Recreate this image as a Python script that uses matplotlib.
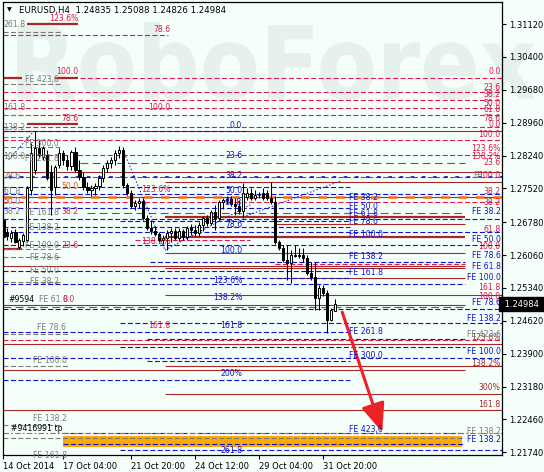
import matplotlib
matplotlib.use('Agg')
import matplotlib.pyplot as plt
from matplotlib.textpath import TextPath
from matplotlib.patches import PathPatch, Rectangle
from matplotlib.font_manager import FontProperties
from matplotlib.transforms import Affine2D
import numpy as np

# EURUSD H4 candles, one per bar starting 14 Oct 2014
opens = [1.2683, 1.2657, 1.2643, 1.2657, 1.2624, 1.2637, 1.2639, 1.2749, 1.2792, 1.2841,
         1.2821, 1.2825, 1.2788, 1.2755, 1.2803, 1.2830, 1.2814, 1.2801, 1.2832, 1.2792,
         1.2777, 1.2755, 1.2749, 1.2753, 1.2757, 1.2775, 1.2797, 1.2808, 1.2814, 1.2830,
         1.2836, 1.2759, 1.2742, 1.2714, 1.2720, 1.2724, 1.2687, 1.2665, 1.2659, 1.2652,
         1.2639, 1.2643, 1.2654, 1.2659, 1.2643, 1.2659, 1.2646, 1.2665, 1.2661, 1.2654,
         1.2672, 1.2687, 1.2676, 1.2700, 1.2687, 1.2722, 1.2727, 1.2729, 1.2718, 1.2714,
         1.2703, 1.2733, 1.2742, 1.2731, 1.2738, 1.2742, 1.2742, 1.2731, 1.2722, 1.2635,
         1.2622, 1.2595, 1.2589, 1.2606, 1.2604, 1.2606, 1.2600, 1.2567, 1.2558, 1.2512,
         1.2534, 1.2523, 1.2464, 1.24835]
highs = [1.2687, 1.2665, 1.2661, 1.2663, 1.2643, 1.2654, 1.2757, 1.2851, 1.2878, 1.2858,
         1.2845, 1.2836, 1.2803, 1.2803, 1.2841, 1.2836, 1.2825, 1.2836, 1.2843, 1.2814,
         1.2788, 1.2766, 1.2760, 1.2764, 1.2781, 1.2803, 1.2814, 1.2821, 1.2836, 1.2845,
         1.2843, 1.2764, 1.2749, 1.2727, 1.2731, 1.2731, 1.2694, 1.2683, 1.2670, 1.2657,
         1.2650, 1.2661, 1.2665, 1.2665, 1.2665, 1.2663, 1.2670, 1.2674, 1.2672, 1.2678,
         1.2692, 1.2694, 1.2705, 1.2716, 1.2727, 1.2731, 1.2735, 1.2735, 1.2731, 1.2727,
         1.2764, 1.2753, 1.2753, 1.2749, 1.2744, 1.2753, 1.2749, 1.2766, 1.2735, 1.2639,
         1.2628, 1.2628, 1.2617, 1.2628, 1.2622, 1.2622, 1.2606, 1.2591, 1.2591, 1.2540,
         1.2540, 1.2529, 1.2490, 1.25088]
lows = [1.2639, 1.2639, 1.2635, 1.2632, 1.2619, 1.2626, 1.2635, 1.2738, 1.2784, 1.2819,
        1.2814, 1.2770, 1.2694, 1.2738, 1.2797, 1.2803, 1.2792, 1.2792, 1.2788, 1.2770,
        1.2749, 1.2742, 1.2735, 1.2738, 1.2749, 1.2766, 1.2788, 1.2797, 1.2803, 1.2819,
        1.2753, 1.2738, 1.2709, 1.2705, 1.2709, 1.2683, 1.2661, 1.2652, 1.2648, 1.2635,
        1.2630, 1.2617, 1.2635, 1.2639, 1.2637, 1.2639, 1.2639, 1.2650, 1.2648, 1.2648,
        1.2659, 1.2670, 1.2672, 1.2661, 1.2683, 1.2707, 1.2718, 1.2714, 1.2694, 1.2696,
        1.2687, 1.2727, 1.2727, 1.2727, 1.2731, 1.2727, 1.2727, 1.2718, 1.2630, 1.2617,
        1.2591, 1.2551, 1.2545, 1.2602, 1.2600, 1.2591, 1.2562, 1.2551, 1.2486, 1.2486,
        1.2516, 1.2435, 1.2462, 1.24826]
closes = [1.2646, 1.2648, 1.2654, 1.2635, 1.2639, 1.2650, 1.2753, 1.2830, 1.2841, 1.2825,
          1.2841, 1.2775, 1.2749, 1.2799, 1.2830, 1.2814, 1.2801, 1.2832, 1.2792, 1.2777,
          1.2755, 1.2749, 1.2753, 1.2757, 1.2775, 1.2797, 1.2808, 1.2814, 1.2830, 1.2836,
          1.2759, 1.2742, 1.2714, 1.2720, 1.2724, 1.2687, 1.2665, 1.2659, 1.2652, 1.2639,
          1.2643, 1.2654, 1.2659, 1.2643, 1.2659, 1.2646, 1.2665, 1.2661, 1.2654, 1.2672,
          1.2687, 1.2676, 1.2700, 1.2687, 1.2722, 1.2727, 1.2729, 1.2718, 1.2714, 1.2703,
          1.2742, 1.2742, 1.2731, 1.2738, 1.2737, 1.2731, 1.2731, 1.2722, 1.2635, 1.2622,
          1.2595, 1.2589, 1.2606, 1.2604, 1.2606, 1.2600, 1.2567, 1.2558, 1.2512, 1.2534,
          1.2523, 1.2464, 1.2486, 1.24984]

time_ticks = [0, 15, 32, 48, 64, 80]
time_labels = ['14 Oct 2014', '17 Oct 04:00', '21 Oct 20:00', '24 Oct 12:00', '29 Oct 04:00', '31 Oct 20:00']
price_ticks = [1.31120, 1.30400, 1.29680, 1.28960, 1.28240, 1.27520, 1.26780,
               1.26060, 1.25340, 1.24620, 1.23900, 1.23180, 1.22460, 1.21740]
last_price = 1.24984

L, R = -0.1, 124.65   # chart edges in bars

# levels: (price, first bar, last bar)
red_levels = [(1.3088, L, 41.2), (1.2993, 19.2, R), (1.2962, L, R), (1.2946, L, R),
              (1.2929, L, R), (1.2912, L, R), (1.2886, L, R), (1.2858, L, R),
              (1.2826, L, R), (1.2776, L, R), (1.2722, L, R), (1.2639, 33.0, 61.7),
              (1.2586, 68.0, 115.4), (1.2420, L, R)]
blue_levels = [(1.2877, L, 61.7), (1.2756, L, 86.7), (1.2740, L, R), (1.2709, L, 86.7),
               (1.2685, L, R), (1.2681, 29.2, 86.7), (1.2667, L, 86.7), (1.2656, L, R),
               (1.2629, L, R), (1.2591, 36.7, 115.4), (1.2570, L, 86.7), (1.2555, 36.7, 86.7),
               (1.2543, L, 115.4), (1.2487, L, R), (1.2457, 29.2, R), (1.2437, L, 86.7),
               (1.2423, 36.0, 115.4), (1.2404, 29.2, 115.4), (1.2380, L, R), (1.2374, 36.0, 86.7),
               (1.2332, L, 86.7), (1.2216, 15.0, 115.4), (1.2192, 15.0, 115.4), (1.2179, 29.2, R)]
gray_levels = [(1.3094, L, 14.2), (1.2981, L, 14.2), (1.2912, L, 6.5), (1.2865, L, 6.5),
               (1.2843, L, 14.2), (1.2620, L, 14.2), (1.2601, L, 14.2), (1.2546, L, 14.2),
               (1.2433, L, 16.7), (1.2362, L, 16.7), (1.2234, L, 14.2), (1.2205, L, 115.4)]
brown_levels = [(1.2877, L, R), (1.2787, L, R), (1.2767, 40.4, R), (1.2733, L, R),
                (1.2674, 68.0, 115.4), (1.2610, 40.4, 115.4), (1.2582, L, 115.4),
                (1.2577, 40.4, 115.4), (1.2555, 68.0, 115.4), (1.2518, 40.4, R),
                (1.2497, L, 115.4), (1.2411, L, R), (1.2362, 40.4, R), (1.2354, L, 115.4),
                (1.2301, 40.4, R), (1.2267, L, R)]
brown_thick_levels = [(1.3112, 5.9, 18.7), (1.2993, L, 4.7), (1.2993, 12.9, 18.7),
                      (1.2893, 5.9, 18.7), (1.2690, 40.4, 115.4), (1.2646, 40.4, 115.4),
                      (1.2620, L, 4.7)]
green_levels = [(1.2808, 19.2, 115.4), (1.2699, 20.9, 115.4), (1.2493, L, 115.4)]
orange_level = (1.2733, L, R)
tp_level = (1.2216, L, R)
tp_band = (1.2186, 1.2210, 15.0, 114.7)

# trend lines (bar, price) pairs
trend_lines = [((29.9, 1.2836), (40.4, 1.2617)), ((40.4, 1.2617), (61.7, 1.2716)),
               ((59.9, 1.2689), (84.2, 1.2768)), ((7.2, 1.2873), (1.2, 1.2814))]
arrow_from = (84.7, 1.2481)
arrow_to = (94.7, 1.2218)

# labels: (text, bar, price)
gray_left = [('261.8', 0, 1.3110), ('FE 423,6', 5.5, 1.2991), ('161.8', 0, 1.2930),
             ('138.2', 0, 1.2886), ('FE 300,0', 5.5, 1.2851), ('100.0', 0, 1.2821),
             ('FE 261.8', 5.5, 1.2817), ('78.6', 0, 1.2777), ('61.8', 0, 1.2746),
             ('50.0', 0, 1.2724), ('38.2', 0, 1.2701), ('FE 161.8', 5.5, 1.2699),
             ('FE 138.2', 5.5, 1.2666), ('FE 100.0', 5.5, 1.2627), ('FE 78.6', 6.7, 1.2601),
             ('FE 50.0', 6.7, 1.2572), ('FE 38.2', 6.7, 1.2548), ('FE 61.8', 9.0, 1.2508),
             ('FE 78.6', 8.4, 1.2448), ('FE 100.0', 7.4, 1.2374), ('FE 138.2', 7.4, 1.2247),
             ('FE 161.8', 7.4, 1.2167)]
black_left = [('#9594', 1.3, 1.2508), ('#9416991 tp', 1.8, 1.2227)]
red_mid = [('123.6%', 18.7, 1.3125), ('78.6', 41.7, 1.3101), ('100.0', 18.7, 1.3007),
           ('100.0', 41.7, 1.2930), ('78.6', 18.7, 1.2904), ('123.6%', 41.7, 1.2749),
           ('38.2', 18.7, 1.2701), ('23.6', 18.7, 1.2628), ('138.2%', 41.7, 1.2635),
           ('161.8', 41.7, 1.2451), ('0.0', 17.9, 1.2508)]
orange_mid = [('50.0', 18.7, 1.2757)]
blue_mid = [('0.0', 1.2889), ('23.6', 1.2825), ('38.2', 1.2781), ('50.0', 1.2748),
            ('61.8', 1.2720), ('78.6', 1.2672), ('100.0', 1.2617), ('123.6%', 1.2551),
            ('138.2%', 1.2514), ('161.8', 1.2451), ('200%', 1.2346), ('261.8', 1.2179)]
blue_fe_mid = [('FE 38.2', 1.2733), ('FE 50.0', 1.2713), ('FE 61.8', 1.2698),
               ('FE 78.6', 1.2680), ('FE 100.0', 1.2652), ('FE 138.2', 1.2602),
               ('FE 161.8', 1.2567), ('FE 261.8', 1.2438), ('FE 300.0', 1.2387),
               ('FE 423,6', 1.2223)]
blue_right = [('FE 38.2', 1.2701), ('FE 50.0', 1.2639), ('FE 78.6', 1.2604),
              ('FE 61.8', 1.2582), ('FE 100.0', 1.2556), ('FE 78.6', 1.2501),
              ('FE 138.2', 1.2468), ('FE 100.0', 1.2394), ('FE 138.2', 1.2203)]
red_right = [('0.0', 1.3007), ('23.6', 1.2974), ('38.2', 1.2957), ('50.0', 1.2939),
             ('61.8', 1.2924), ('78.6', 1.2906), ('0.0', 1.2891), ('100.0', 1.2869),
             ('123.6%', 1.2840), ('138.2%', 1.2821), ('23.6', 1.2808), ('100.0', 1.2781),
             ('38.2', 1.2746), ('38.2', 1.2722), ('61.8', 1.2661), ('100.0', 1.2624),
             ('161.8', 1.2534), ('100.0', 1.2516)]
brown_right = [('123.6%', 1.2425), ('138.2%', 1.2368), ('300%', 1.2315), ('161.8', 1.2278)]
gray_right = [('FE', 119.9, 1.2781), ('FE 423.6', 124.3, 1.2432), ('FE 138.2', 124.3, 1.2219)]

BG = '#F5FFFA'
RED = '#E3174A'
BLUE = '#1010D0'
GRAY = '#7A7A7A'
BROWN = '#A8282A'
GREEN = '#1E8A1E'
FS = 5.6

fig = plt.figure(figsize=(5.44, 4.72), dpi=100, facecolor=BG)
ax = fig.add_axes([3 / 544, 17 / 472, 499 / 544, 453 / 472], facecolor=BG)
ax.set_xlim(L, R)
ax.set_ylim(1.21681, 1.31602)

# watermark
prop = FontProperties(family='DejaVu Sans', weight='bold')
tp = TextPath((0, 0), 'RoboForex', size=1, prop=prop)
ext = tp.get_extents()
sx = (535 - 17) / ext.width
sy = (100 - 22) / ext.height
wm = Affine2D().translate(-ext.x0, -ext.y0).scale(sx / 544, sy / 472).translate(17 / 544, (472 - 100) / 472)
ax.add_patch(PathPatch(tp, transform=wm + fig.transFigure, facecolor='#E6F0ED', edgecolor='none', zorder=0, clip_on=False))

def levels(rows, color, ls, lw, z=2):
    for y, x0, x1 in rows:
        ax.hlines(y, x0, x1, colors=color, linestyles=ls, linewidth=lw, zorder=z)

levels(brown_levels, BROWN, 'solid', 0.8)
levels(brown_thick_levels, BROWN, 'solid', 1.6)
levels(red_levels, RED, (0, (4.5, 2.2)), 0.8)
levels(blue_levels, BLUE, (0, (4.5, 2.2)), 0.8)
levels(gray_levels, GRAY, (0, (4.5, 2.2)), 0.8)
levels(green_levels, GREEN, (0, (7, 4)), 0.8)
ax.hlines(1.2776, L, R, colors=BLUE, linestyles=(3.3, (2.2, 4.5)), linewidth=1.2, zorder=2)
ax.hlines(orange_level[0], orange_level[1], orange_level[2], colors='#FF6A00',
          linestyles=(0, (3.5, 3.5)), linewidth=1.8, zorder=2)
ax.hlines(tp_level[0], tp_level[1], tp_level[2], colors='#FF4A1A',
          linestyles=(0, (5, 2, 1.5, 2)), linewidth=0.8, zorder=2)
ax.add_patch(Rectangle((tp_band[2], tp_band[0]), tp_band[3] - tp_band[2], tp_band[1] - tp_band[0],
                       facecolor='#FFA800', edgecolor='none', zorder=1.5))

for (x0, y0), (x1, y1) in trend_lines:
    ax.plot([x0, x1], [y0, y1], color=BLUE, linestyle=(0, (1.5, 2)), linewidth=0.7, zorder=2)

# candles
x = np.arange(len(opens))
o = np.array(opens)
c = np.array(closes)
ax.vlines(x, lows, highs, color='black', linewidth=0.75, zorder=4)
up = c >= o
body = np.maximum(np.abs(c - o), 0.00004)
ax.bar(x[up], body[up], bottom=o[up], width=0.55, color='white', edgecolor='black', linewidth=0.7, zorder=5)
ax.bar(x[~up], body[~up], bottom=c[~up], width=0.55, color='black', edgecolor='black', linewidth=0.7, zorder=5)

# arrow
ax.annotate('', xy=arrow_to, xytext=arrow_from,
            arrowprops=dict(arrowstyle='-|>,head_length=1.1,head_width=0.45', color='#EC2226',
                            lw=2.2, mutation_scale=16, shrinkA=0, shrinkB=0), zorder=6)

def put(rows, color, ha, xpos=None, **kw):
    for row in rows:
        if xpos is None:
            text, bx, y = row
        else:
            (text, y), bx = row, xpos
        ax.text(bx, y, text, color=color, fontsize=FS, ha=ha, va='center', zorder=7, **kw)

put(gray_left, GRAY, 'left')
put(black_left, 'black', 'left')
put(red_mid, RED, 'right')
put(orange_mid, '#D0602A', 'right')
put(blue_mid, BLUE, 'right', 59.7)
put(blue_fe_mid, BLUE, 'left', 86.3)
put(blue_right, BLUE, 'right', 124.3)
put(red_right, RED, 'right', 124.3)
put(brown_right, BROWN, 'right', 124.3)
put(gray_right, GRAY, 'right')

ax.yaxis.tick_right()
ax.set_yticks(price_ticks)
ax.set_yticklabels(['%.5f' % p for p in price_ticks])
ax.set_xticks(time_ticks)
ax.set_xticklabels(time_labels, ha='left')
ax.tick_params(axis='both', labelsize=6, length=3, width=0.8, pad=2, colors='black')
for s in ax.spines.values():
    s.set_linewidth(0.9)

ax.text(1.0, last_price, ' 1.24984 ', transform=ax.get_yaxis_transform(), ha='left', va='center',
        color='white', fontsize=6, zorder=8, clip_on=False,
        bbox=dict(boxstyle='square,pad=0.3', facecolor='black', edgecolor='black'))

fig.text(7 / 544, 1 - 10 / 472, '\u25bc', fontsize=4.5, va='center')
fig.text(19 / 544, 1 - 10 / 472, 'EURUSD,H4  1.24835 1.25088 1.24826 1.24984', fontsize=6.2, va='center')

fig.savefig('out.png', dpi=100, facecolor=BG)
